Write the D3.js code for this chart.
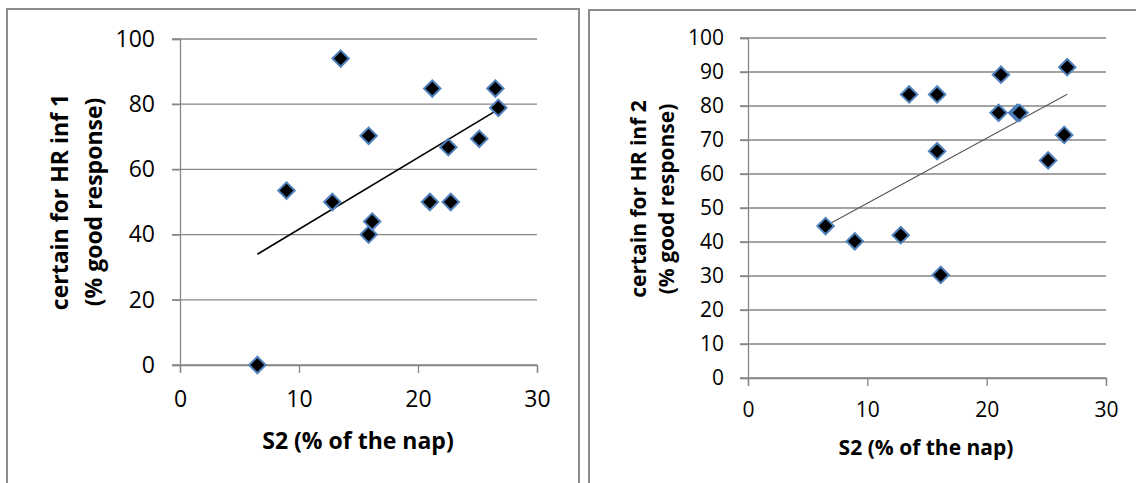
<!DOCTYPE html>
<html>
<head>
<meta charset="utf-8">
<script src="https://cdn.jsdelivr.net/npm/d3@7"></script>
<style>
  body { margin: 0; background: white; }
  svg { display: block; font-family: "Open Sans", Lato, sans-serif; }
</style>
</head>
<body>
<div id="chart"></div>
<script>
// S2 (% of the nap) per subject, shared by both panels
const s2Values = [6.5, 8.95, 12.8, 13.5, 15.85, 15.85, 16.15, 21.0, 21.2, 22.55, 22.75, 25.15, 26.5, 26.75];
// certain for HR inf 1 (% good response)
const certainInf1 = [0, 53.5, 50, 94, 70.3, 40, 44, 50, 84.8, 66.8, 50, 69.4, 84.8, 78.9];
// certain for HR inf 2 (% good response)
const certainInf2 = [44.7, 40.2, 42, 83.4, 83.4, 66.7, 30.3, 78, 89.2, 78, 78, 64, 71.5, 91.4];

const xTicks = [0, 10, 20, 30];
const yTicksLeft = [0, 20, 40, 60, 80, 100];
const yTicksRight = [0, 10, 20, 30, 40, 50, 60, 70, 80, 90, 100];

const svg = d3.select("#chart")
  .append("svg")
  .attr("width", 1136)
  .attr("height", 483)
  .style("background", "white");

// panel frames
svg.append("rect")
  .attr("x", 7).attr("y", 9).attr("width", 572).attr("height", 490)
  .attr("fill", "none").attr("stroke", "#8c8c8c").attr("stroke-width", 2);
svg.append("rect")
  .attr("x", 589).attr("y", 10).attr("width", 600).attr("height", 490)
  .attr("fill", "none").attr("stroke", "#8c8c8c").attr("stroke-width", 2);

// least squares line, like the Excel linear trendline
function linearFit(xs, ys) {
  const mx = d3.mean(xs), my = d3.mean(ys);
  let sxy = 0, sxx = 0;
  xs.forEach((x, i) => { sxy += (x - mx) * (ys[i] - my); sxx += (x - mx) * (x - mx); });
  const slope = sxy / sxx;
  return x => my + slope * (x - mx);
}

function drawPanel(opts) {
  const g = svg.append("g");

  const x = d3.scaleLinear().domain([0, 30]).range([opts.left, opts.right]);
  const y = d3.scaleLinear().domain([0, 100]).range([opts.bottom, opts.top]);

  // gridlines
  g.selectAll(".grid")
    .data(opts.yTicks)
    .enter()
    .append("line")
      .attr("x1", x(0) - 8)
      .attr("x2", x(30))
      .attr("y1", d => y(d))
      .attr("y2", d => y(d))
      .attr("stroke", "#868686")
      .attr("stroke-width", 1.3);

  const yAxis = g.append("g")
    .attr("transform", `translate(${x(0)},0)`)
    .call(d3.axisLeft(y).tickValues(opts.yTicks).tickSize(8).tickPadding(opts.yPad).tickFormat(d3.format("d")));

  const xAxis = g.append("g")
    .attr("transform", `translate(0,${y(0)})`)
    .call(d3.axisBottom(x).tickValues(xTicks).tickSize(8).tickPadding(opts.xPad).tickFormat(d3.format("d")));

  [xAxis, yAxis].forEach(a => {
    a.select(".domain").attr("stroke", "#868686").attr("stroke-width", 1.3);
    a.selectAll(".tick line").attr("stroke", "#868686").attr("stroke-width", 1.3);
    a.selectAll(".tick text")
      .attr("fill", "#000")
      .attr("font-family", "'Open Sans', sans-serif")
      .attr("font-size", opts.tickFont + "px");
  });

  // trendline
  const fit = linearFit(s2Values, opts.values);
  const x0 = d3.min(s2Values), x1 = d3.max(s2Values);
  g.append("line")
    .attr("x1", x(x0)).attr("y1", y(fit(x0)))
    .attr("x2", x(x1)).attr("y2", y(fit(x1)))
    .attr("stroke", opts.trendColor)
    .attr("stroke-width", opts.trendWidth);

  // markers
  const diamond = d3.symbol().type(d3.symbolSquare).size(135);
  g.selectAll(".pt")
    .data(s2Values.map((v, i) => ({ s2: v, val: opts.values[i] })))
    .enter()
    .append("path")
      .attr("d", diamond)
      .attr("transform", d => `translate(${x(d.s2)},${y(d.val)}) rotate(45)`)
      .attr("fill", "#000")
      .attr("stroke", "#4f81bd")
      .attr("stroke-width", 2);

  // axis titles
  g.append("text")
    .attr("x", opts.xTitleX)
    .attr("y", opts.xTitleY)
    .attr("text-anchor", "middle")
    .attr("font-weight", "bold")
    .attr("font-size", opts.titleFont + "px")
    .text("S2 (% of the nap)");

  const yt = g.append("text")
    .attr("transform", `translate(${opts.yTitleX},${opts.yTitleY}) rotate(-90)`)
    .attr("text-anchor", "middle")
    .attr("font-weight", "bold")
    .attr("font-size", opts.titleFont + "px");
  yt.append("tspan").attr("x", 0).attr("dy", 0).text(opts.yTitle);
  yt.append("tspan").attr("x", 0).attr("dy", opts.lineGap).text("(% good response)");
}

drawPanel({
  left: 180, right: 537, top: 39, bottom: 365,
  yTicks: yTicksLeft, values: certainInf1,
  yPad: 17, xPad: 18, tickFont: 23, titleFont: 23,
  trendColor: "#000", trendWidth: 1.6,
  xTitleX: 358, xTitleY: 449,
  yTitleX: 68, yTitleY: 202, lineGap: 34, yTitle: "certain for HR inf 1"
});

drawPanel({
  left: 748, right: 1106, top: 38, bottom: 378,
  yTicks: yTicksRight, values: certainInf2,
  yPad: 16, xPad: 16, tickFont: 21, titleFont: 21,
  trendColor: "#555", trendWidth: 1.1,
  xTitleX: 926, xTitleY: 455,
  yTitleX: 646, yTitleY: 199, lineGap: 28, yTitle: "certain for HR inf 2"
});
</script>
</body>
</html>
